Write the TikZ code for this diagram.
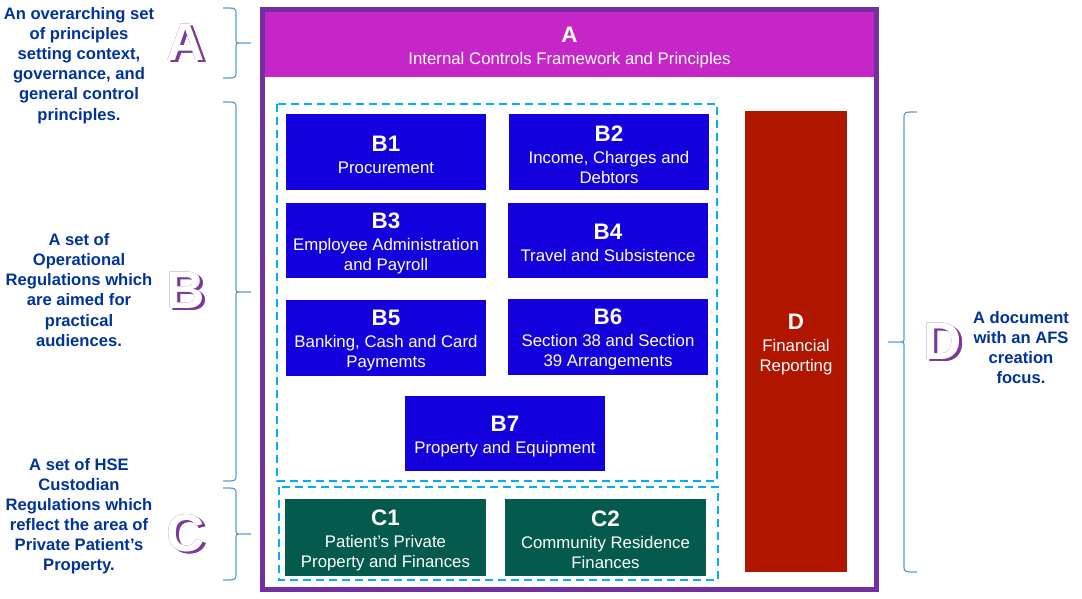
\documentclass[tikz,border=0pt]{standalone}
\usepackage{fontspec}
\setmainfont{Liberation Sans}
\usepackage[outline]{contour}
\contourlength{0.9pt}
\definecolor{frame}{HTML}{7030A0}
\definecolor{hdr}{HTML}{C526C8}
\definecolor{bblue}{HTML}{1400DC}
\definecolor{cgreen}{HTML}{045A4C}
\definecolor{dred}{HTML}{B01500}
\definecolor{dash}{HTML}{00B0F0}
\definecolor{desc}{HTML}{003399}
\definecolor{brace}{HTML}{5B9BD5}
\definecolor{shade}{HTML}{7A3A9A}
\newcommand\ttlf{\bfseries\fontsize{22.4}{24}\selectfont}
\newcommand\bigltr[1]{\makebox[0pt][l]{\hspace{2.2pt}\raisebox{-2.2pt}{\contour{shade}{\textcolor{shade}{#1}}}}\contour{frame}{\textcolor{white}{#1}}}
\begin{document}
\begin{tikzpicture}[x=1pt,y=-1pt,
  box/.style={draw=none,inner sep=0pt},
  lbl/.style={inner sep=0pt,align=center,text=white,font=\fontsize{16.8}{20}\selectfont,yshift=-2.7pt},
  bbox/.style={box,fill=bblue,minimum width=200pt,minimum height=76pt},
  cbox/.style={box,fill=cgreen,minimum width=201pt,minimum height=77pt},
  group/.style={draw=dash,line width=2.2pt,dash pattern=on 8pt off 5pt},
  descr/.style={align=center,text=desc,font=\bfseries\fontsize{16.6}{20.1}\selectfont,inner sep=0pt},
  brc/.style={draw=brace,line width=1.2pt},
  letter/.style={inner sep=0pt,font=\bfseries\fontsize{53}{53}\selectfont}
]
\useasboundingbox (0,0) rectangle (1082,599);
% outer frame
\node[draw=frame,line width=5pt,minimum width=614pt,minimum height=580pt,inner sep=0pt] (frame) at (569.5,299.5) {};
% header
\node[box,fill=hdr,minimum width=609pt,minimum height=65pt,label={[lbl,name=At]center:{{\ttlf A}\\[2pt]Internal Controls Framework and Principles}}] (A) at (569.5,44.5) {};
% groups
\draw[group] (277,104) rectangle (717,481);
\draw[group] (279,487) rectangle (718,580);
% B boxes
\node[bbox,label={[lbl,name=B1t]center:{{\ttlf B1}\\[2pt]Procurement}}] (B1) at (386,152) {};
\node[bbox,label={[lbl,name=B2t]center:{{\ttlf B2}\\[2pt]Income, Charges and\\Debtors}}] (B2) at (609,152) {};
\node[bbox,minimum height=75pt,label={[lbl,name=B3t]center:{{\ttlf B3}\\[2pt]Employee Administration\\and Payroll}}] (B3) at (386,240.5) {};
\node[bbox,minimum height=75pt,label={[lbl,name=B4t]center:{{\ttlf B4}\\[2pt]Travel and Subsistence}}] (B4) at (608,240.5) {};
\node[bbox,label={[lbl,name=B5t]center:{{\ttlf B5}\\[2pt]Banking, Cash and Card\\Paymemts}}] (B5) at (386,338) {};
\node[bbox,label={[lbl,name=B6t]center:{{\ttlf B6}\\[2pt]Section 38 and Section\\39 Arrangements}}] (B6) at (608,337) {};
\node[bbox,minimum height=75pt,label={[lbl,name=B7t]center:{{\ttlf B7}\\[2pt]Property and Equipment}}] (B7) at (505,433.5) {};
% C boxes
\node[cbox,label={[lbl,name=C1t]center:{{\ttlf C1}\\[2pt]Patient’s Private\\Property and Finances}}] (C1) at (385.5,537.5) {};
\node[cbox,label={[lbl,name=C2t]center:{{\ttlf C2}\\[2pt]Community Residence\\Finances}}] (C2) at (605.5,537.5) {};
% D
\node[box,fill=dred,minimum width=102pt,minimum height=461pt,label={[lbl,name=Dt]center:{{\ttlf D}\\[2pt]Financial\\Reporting}}] (D) at (796,341.5) {};
% descriptions
\node[descr] (dA) at (79,65.5) {An overarching set\\of principles\\setting context,\\governance, and\\general control\\principles.};
\node[descr] (dB) at (79,290) {A set of\\Operational\\Regulations which\\are aimed for\\practical\\audiences.};
\node[descr] (dC) at (79,516) {A set of HSE\\Custodian\\Regulations which\\reflect the area of\\Private Patient’s\\Property.};
\node[descr] (dD) at (1021,347.5) {A document\\with an AFS\\creation\\focus.};
% letters
\foreach \l/\x/\y in {A/186/43, B/186/291, C/186/534, D/943/342}{
  \node[letter] (L\l) at (\x,\y) {\bigltr{\l}};
}
% braces (opening left, tip to right)
\foreach \ya/\ym/\yb in {8/43/78, 102/292/481, 488/534/580}{
  \draw[brc] (223,\ya) .. controls (236,\ya) and (236,\ya) .. (236,\ya+6) -- (236,\ym-5)
     .. controls (236,\ym) and (236,\ym) .. (241,\ym) -- (251,\ym)
     (241,\ym) .. controls (236,\ym) and (236,\ym) .. (236,\ym+5) -- (236,\yb-6)
     .. controls (236,\yb) and (236,\yb) .. (223,\yb);
}
% brace D (opening right, tip to left)
\draw[brc] (917,112) .. controls (904,112) and (904,112) .. (904,118) -- (904,337)
   .. controls (904,342) and (904,342) .. (899,342) -- (888,342)
   (899,342) .. controls (904,342) and (904,342) .. (904,347) -- (904,566)
   .. controls (904,572) and (904,572) .. (917,572);
\end{tikzpicture}
\end{document}
